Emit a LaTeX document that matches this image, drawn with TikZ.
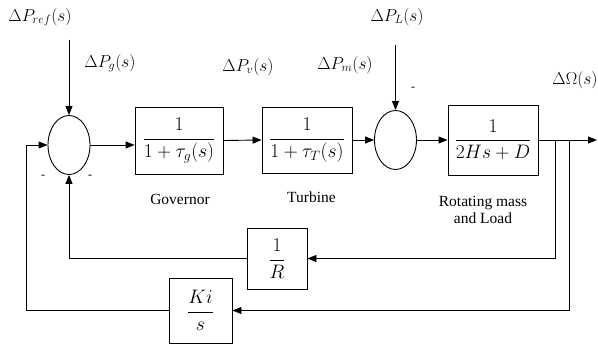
\documentclass[tikz,border=0pt]{standalone}
\usepackage{graphicx}
\usepackage{fontspec}
\setmainfont{Liberation Serif}
\newfontfamily\capfont{Liberation Serif}
\usetikzlibrary{shapes.geometric,arrows.meta}
\newcommand{\bigfr}[1]{\scalebox{1.13}{$\displaystyle #1$}}
\tikzset{
  blk/.style={draw, line width=0.9pt, inner sep=0pt, font=\fontsize{17.28}{20}\selectfont},
  sumj/.style={draw, ellipse, line width=0.9pt, minimum width=42pt, minimum height=59pt, inner sep=0pt},
  conn/.style={line width=0.9pt},
  arr/.style={conn, -{Triangle[length=9pt,width=7pt]}},
  sig/.style={font=\fontsize{17.28}{20}\selectfont, inner sep=0pt},
  captxt/.style={font=\capfont\fontsize{15.5}{18}\selectfont, inner sep=0pt, align=center},
  sgn/.style={font=\fontsize{12}{14}\selectfont, inner sep=0pt}
}
\begin{document}
\begin{tikzpicture}[x=1pt,y=-1pt]
\useasboundingbox (0,0) rectangle (598,345);
% blocks
\node[sumj] (s1) at (69,145) {};
\node[blk, minimum width=88pt, minimum height=67pt] (gov) at (179,140.5) {\bigfr{\frac{1}{1+\tau_g(s)}}};
\node[blk, minimum width=90pt, minimum height=66pt] (tur) at (307,140) {\bigfr{\frac{1}{1+\tau_T(s)}}};
\node[sumj] (s2) at (395.5,140) {};
\node[blk, minimum width=90pt, minimum height=70pt] (load) at (493,140) {\bigfr{\frac{1}{2Hs+D}}};
\node[blk, minimum width=60pt, minimum height=61pt] (rb) at (277,258.5) {\bigfr{\frac{1}{R}}};
\node[blk, minimum width=63pt, minimum height=65pt] (kb) at (200.5,310.5) {\bigfr{\frac{Ki}{s}}};
% coordinates
\coordinate (refin) at (69,40);
\coordinate (lin) at (395.5,45);
\coordinate (b1) at (555,140);
\coordinate (b2) at (569,140);
\coordinate (out) at (597,140);
\coordinate (rl) at (69,257);
\coordinate (kl) at (26,311);
% signals
\node[sig] (lref) at (40,17) {$\Delta P_{ref}(s)$};
\node[sig] (lg) at (110,63) {$\Delta P_g(s)$};
\node[sig] (lv) at (248,67) {$\Delta P_v(s)$};
\node[sig] (lm) at (345,65) {$\Delta P_m(s)$};
\node[sig] (ll) at (397,17) {$\Delta P_L(s)$};
\node[sig] (lo) at (575,80) {$\Delta\Omega(s)$};
% signs
\node[sgn] (m1) at (43,177) {-};
\node[sgn] (m2) at (90,177) {-};
\node[sgn] (m3) at (413,89) {-};
% captions
\node[captxt] (cg) at (180,199) {Governor};
\node[captxt] (ct) at (311.5,197) {Turbine};
\node[captxt] (cl) at (483,209.5) {Rotating mass\\[-1pt]and Load};
% connectors
\draw[arr] (refin) -- (s1.north);
\draw[arr] (lin) -- (s2.north);
\draw[arr] (s1.east) -- (s1.east -| gov.west);
\draw[arr] (gov.east) -- (tur.west);
\draw[arr] (tur.east) -- (s2.west);
\draw[arr] (s2.east) -- (load.west);
\draw[arr] (load.east) -- (out);
\draw[arr] (b1) |- (rb.east);
\draw[conn] (rb.west) -- (rb.west -| rl) coordinate (rlc);
\draw[arr] (rlc) -- (s1.south);
\draw[arr] (b2) |- (kb.east);
\draw[conn] (kb.west) -- (kb.west -| kl) coordinate (klc);
\draw[arr] (klc) |- (s1.west);
\end{tikzpicture}
\end{document}
